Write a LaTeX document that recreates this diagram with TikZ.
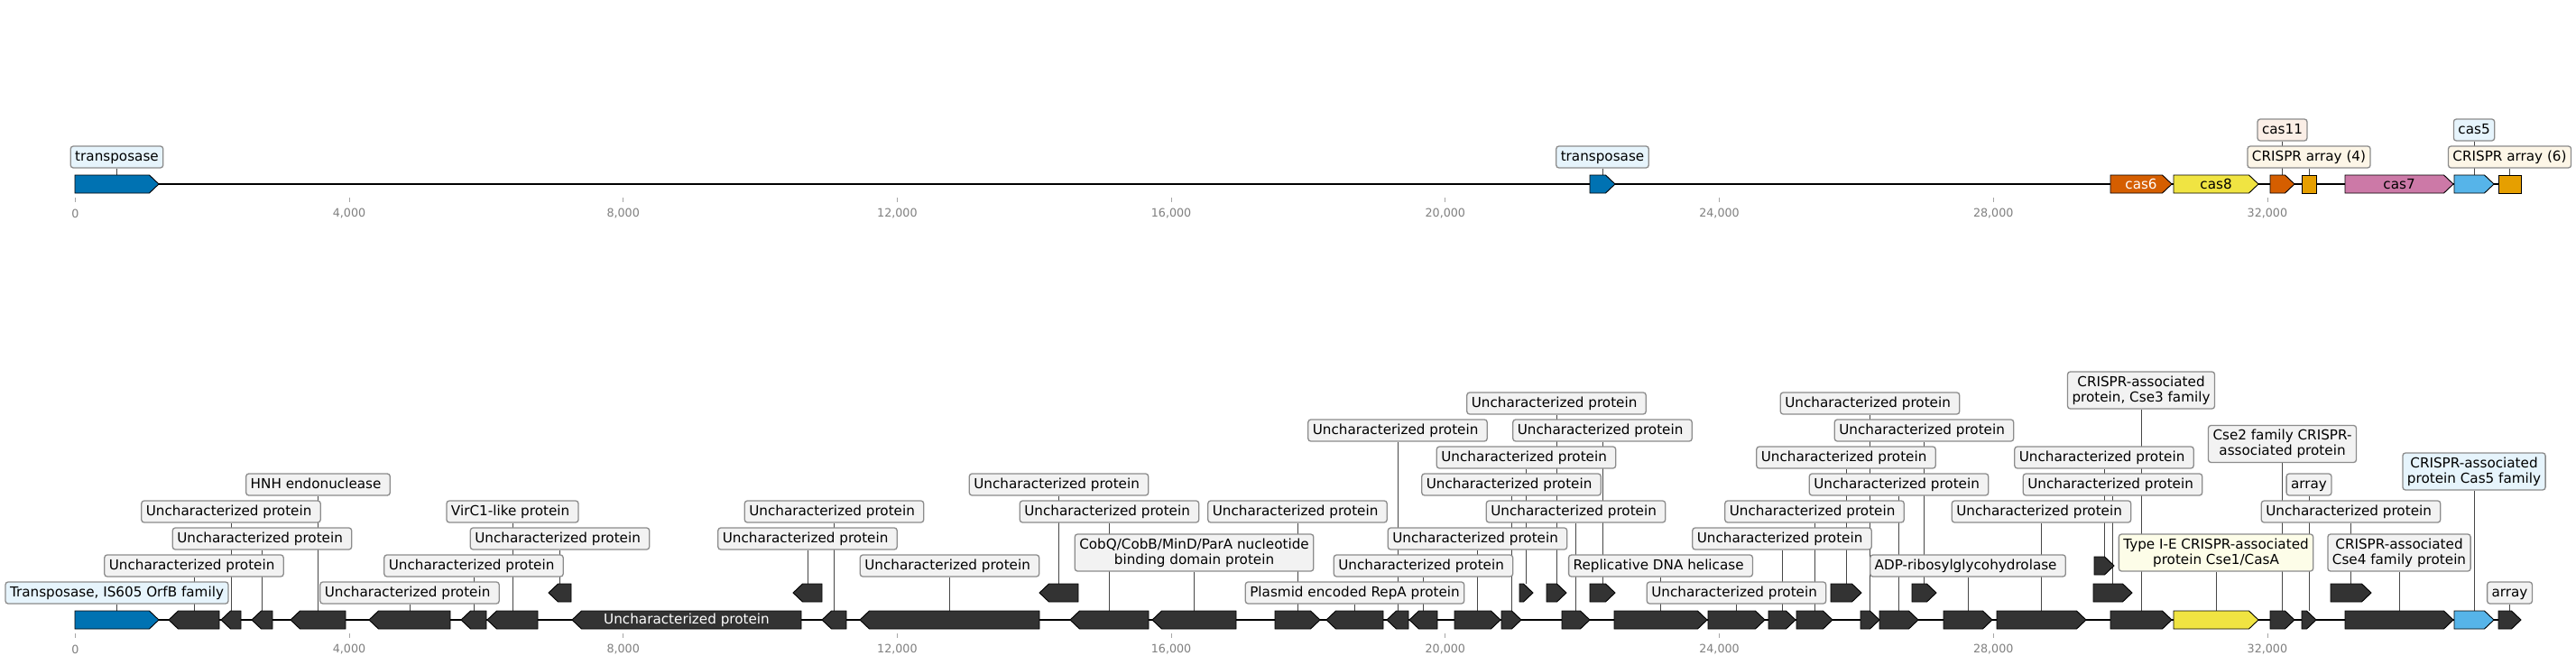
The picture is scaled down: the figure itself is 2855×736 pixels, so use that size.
\documentclass[tikz,border=0pt]{standalone}
\usepackage{fontspec}
\setmainfont{DejaVu Sans}
\definecolor{gdark}{HTML}{333333}
\definecolor{gblue}{HTML}{0072B2}
\definecolor{glblue}{HTML}{56B4E9}
\definecolor{gred}{HTML}{D55E00}
\definecolor{gyel}{HTML}{F0E442}
\definecolor{gorg}{HTML}{E69F00}
\definecolor{gpink}{HTML}{CC79A7}
\definecolor{bgray}{HTML}{F2F2F2}
\definecolor{bblue}{HTML}{E6F4FC}
\definecolor{bcream}{HTML}{FDF6E7}
\definecolor{borange}{HTML}{FBEEE6}
\definecolor{byel}{HTML}{FDFDE8}
\definecolor{bedge}{HTML}{8C8C8C}
\definecolor{axgray}{HTML}{808080}
\pgfdeclarelayer{bg}
\pgfsetlayers{bg,main}
\newcommand\labfont{\fontsize{15.2pt}{17pt}\selectfont}
\newcommand\axfont{\fontsize{12.7pt}{14pt}\selectfont}
\newcommand\UP{Uncharacterized protein\kern4.8pt}
\newcommand\tsp{\kern4.8pt}
\newcommand\genF[5]{%
  \pgfmathsetmacro\gmid{max(#1,#2-10.5)}%
  \draw[gene,fill=#4] (#1,#3-10) -- (\gmid,#3-10) -- (#2,#3) -- (\gmid,#3+10) -- (#1,#3+10) -- cycle;
  \coordinate (#5) at ({(#1+#2)/2},#3-10);}
\newcommand\genR[5]{%
  \pgfmathsetmacro\gmid{min(#2,#1+10.5)}%
  \draw[gene,fill=#4] (#2,#3-10) -- (\gmid,#3-10) -- (#1,#3) -- (\gmid,#3+10) -- (#2,#3+10) -- cycle;
  \coordinate (#5) at ({(#1+#2)/2},#3-10);}
\newcommand\genQ[5]{%
  \draw[gene,fill=#4] (#1,#3-10) rectangle (#2,#3+10);
  \coordinate (#5) at ({(#1+#2)/2},#3-10);}
\begin{document}
\begin{tikzpicture}[x=1pt,y=-1pt,
  gene/.style={draw=black, line width=0.9pt, line join=miter},
  conn/.style={draw=black!72, line width=0.9pt},
  lab/.style={draw=bedge, line width=1.3pt, rounded corners=3pt, fill=bgray, inner xsep=5pt, inner ysep=4.5pt, font=\labfont, text height=11.5pt, text depth=3.5pt, text=black},
  labtwo/.style={draw=bedge, line width=1.3pt, rounded corners=3pt, fill=bgray, inner xsep=5pt, inner ysep=4pt, font=\labfont, align=center, minimum height=41pt, text=black},
  gtext/.style={font=\labfont, inner sep=0pt},
  axlab/.style={font=\axfont, text=axgray, inner sep=0pt},
  tickline/.style={draw=axgray!70, line width=0.8pt},
  spine/.style={draw=black, line width=2.2pt}
]
\useasboundingbox (0,0) rectangle (2855,736);
\begin{pgfonlayer}{bg}
\fill[white] (0,0) rectangle (2855,736);
\end{pgfonlayer}

% ---------------- top track ----------------
\coordinate (ts) at (83,204);
\coordinate (te) at (2794,204);
\genF{83}{176}{204}{gblue}{tc1}
\genF{1762}{1790}{204}{gblue}{tc2}
\genF{2339}{2407}{204}{gred}{tx1}
\genF{2409}{2503}{204}{gyel}{tx2}
\genF{2516}{2543}{204}{gred}{tc4}
\genQ{2551}{2567}{204}{gorg}{tc3}
\genF{2599}{2719}{204}{gpink}{tx3}
\genF{2720}{2764}{204}{glblue}{tc5}
\genQ{2769}{2794}{204}{gorg}{tc6}
\node[gtext,text=white] (tcas6) at (tx1 |- 0,204) {cas6};
\node[gtext] (tcas8) at (tx2 |- 0,204) {cas8};
\node[gtext] (tcas7) at (tx3 |- 0,204) {cas7};

\node[lab,fill=bblue] (tb1) at (tc1 |- 0,174) {transposase};
\node[lab,fill=bblue] (tb2) at (tc2 |- 0,174) {transposase};
\node[lab,fill=bcream] (tb3) at (tc3 |- 0,174) {CRISPR array (4)};
\node[lab,fill=borange] (tb4) at (tc4 |- 0,144) {cas11};
\node[lab,fill=bblue] (tb5) at (tc5 |- 0,144) {cas5};
\node[lab,fill=bcream] (tb6) at (tc6 |- 0,174) {CRISPR array (6)};

% top axis
\foreach \k in {0,...,8} {
  \draw[tickline] ({83.3+303.7*\k},219) -- ({83.3+303.7*\k},224);
  \draw[tickline] ({83.3+303.7*\k},702) -- ({83.3+303.7*\k},707);
}
\node[axlab] (ta0) at (83.3,237) {0};
\node[axlab] (ta1) at (387.0,237) {4,000};
\node[axlab] (ta2) at (690.7,237) {8,000};
\node[axlab] (ta3) at (994.4,237) {12,000};
\node[axlab] (ta4) at (1298.1,237) {16,000};
\node[axlab] (ta5) at (1601.8,237) {20,000};
\node[axlab] (ta6) at (1905.5,237) {24,000};
\node[axlab] (ta7) at (2209.2,237) {28,000};
\node[axlab] (ta8) at (2512.9,237) {32,000};

% ---------------- bottom track ----------------
\coordinate (bs) at (83,687);
\coordinate (be) at (2794,687);
\genF{83}{176}{687}{gblue}{g1}
\genR{187}{243}{687}{gdark}{g2}
\genR{245}{267}{687}{gdark}{g3}
\genR{279}{302}{687}{gdark}{g4}
\genR{322}{383}{687}{gdark}{g5}
\genR{409}{499}{687}{gdark}{g6}
\genR{511}{539}{687}{gdark}{g7}
\genR{540}{596}{687}{gdark}{g8}
\genR{608}{633}{657}{gdark}{g9}
\genR{634}{888}{687}{gdark}{g10}
\genR{879}{911}{657}{gdark}{g11}
\genR{911}{938}{687}{gdark}{g12}
\genR{953}{1152}{687}{gdark}{g13}
\genR{1152}{1195}{657}{gdark}{g14}
\genR{1186}{1273}{687}{gdark}{g15}
\genR{1277}{1370}{687}{gdark}{g16}
\genF{1413}{1463}{687}{gdark}{g17}
\genR{1470}{1533}{687}{gdark}{g18}
\genR{1537}{1561}{687}{gdark}{g19}
\genR{1562}{1593}{687}{gdark}{g20}
\genF{1612}{1663}{687}{gdark}{g21}
\genF{1664}{1686}{687}{gdark}{g22}
\genF{1684}{1699}{657}{gdark}{g23}
\genF{1714}{1736}{657}{gdark}{g24}
\genF{1731}{1762}{687}{gdark}{g25}
\genF{1762}{1790}{657}{gdark}{g26}
\genF{1789}{1892}{687}{gdark}{g27}
\genF{1893}{1956}{687}{gdark}{g28}
\genF{1960}{1990}{687}{gdark}{g29}
\genF{1991}{2031}{687}{gdark}{g30}
\genF{2029}{2063}{657}{gdark}{g31}
\genF{2062}{2083}{687}{gdark}{g32}
\genF{2083}{2126}{687}{gdark}{g33}
\genF{2119}{2146}{657}{gdark}{g34}
\genF{2154}{2208}{687}{gdark}{g35}
\genF{2213}{2312}{687}{gdark}{g36}
\genF{2320}{2363}{657}{gdark}{g37}
\genF{2321}{2343}{627}{gdark}{g38}
\genF{2339}{2407}{687}{gdark}{g39}
\genF{2409}{2503}{687}{gyel}{g40}
\genF{2516}{2543}{687}{gdark}{g41}
\genF{2551}{2567}{687}{gdark}{g42}
\genF{2583}{2628}{657}{gdark}{g43}
\genF{2599}{2719}{687}{gdark}{g44}
\genF{2720}{2764}{687}{glblue}{g45}
\genF{2769}{2794}{687}{gdark}{g46}
\node[gtext,text=white] (g10t) at (g10 |- 0,687) {Uncharacterized protein};

\node[lab,fill=bblue] (b1) at (g1 |- 0,657) {Transposase, IS605 OrfB family};
\node[lab] (b2) at (g2 |- 0,627) {\UP};
\node[lab] (b3) at (g3 |- 0,567) {\UP};
\node[lab] (b4) at (g4 |- 0,597) {\UP};
\node[lab] (b5) at (g5 |- 0,537) {HNH endonuclease\tsp};
\node[lab] (b6) at (g6 |- 0,657) {\UP};
\node[lab] (b7) at (g7 |- 0,627) {\UP};
\node[lab] (b8) at (g8 |- 0,567) {VirC1-like protein\tsp};
\node[lab] (b9) at (g9 |- 0,597) {\UP};
\node[lab] (b11) at (g11 |- 0,597) {\UP};
\node[lab] (b12) at (g12 |- 0,567) {\UP};
\node[lab] (b13) at (g13 |- 0,627) {\UP};
\node[lab] (b14) at (g14 |- 0,537) {\UP};
\node[lab] (b15) at (g15 |- 0,567) {\UP};
\node[labtwo] (b16) at (g16 |- 0,612.5) {CobQ/CobB/MinD/ParA nucleotide\\binding domain protein};
\node[lab] (b17) at (g17 |- 0,567) {\UP};
\node[lab] (b18) at (g18 |- 0,657) {Plasmid encoded RepA protein};
\node[lab] (b19) at (g19 |- 0,477) {\UP};
\node[lab] (b20) at (g20 |- 0,627) {\UP};
\node[lab] (b21) at (g21 |- 0,597) {\UP};
\node[lab] (b22) at (g22 |- 0,537) {\UP};
\node[lab] (b23) at (g23 |- 0,507) {\UP};
\node[lab] (b24) at (g24 |- 0,447) {\UP};
\node[lab] (b25) at (g25 |- 0,567) {\UP};
\node[lab] (b26) at (g26 |- 0,477) {\UP};
\node[lab] (b27) at (g27 |- 0,627) {Replicative DNA helicase\tsp};
\node[lab] (b28) at (g28 |- 0,657) {\UP};
\node[lab] (b29) at (g29 |- 0,597) {\UP};
\node[lab] (b30) at (g30 |- 0,567) {\UP};
\node[lab] (b31) at (g31 |- 0,507) {\UP};
\node[lab] (b32) at (g32 |- 0,447) {\UP};
\node[lab] (b33) at (g33 |- 0,537) {\UP};
\node[lab] (b34) at (g34 |- 0,477) {\UP};
\node[lab] (b35) at (g35 |- 0,627) {ADP-ribosylglycohydrolase\tsp};
\node[lab] (b36) at (g36 |- 0,567) {\UP};
\node[lab] (b37) at (g37 |- 0,537) {\UP};
\node[lab] (b38) at (g38 |- 0,507) {\UP};
\node[labtwo] (b39) at (g39 |- 0,432.5) {CRISPR-associated\\protein, Cse3 family};
\node[labtwo,fill=byel] (b40) at (g40 |- 0,612.5) {Type I-E CRISPR-associated\\protein Cse1/CasA};
\node[labtwo] (b41) at (g41 |- 0,492) {Cse2 family CRISPR-\\associated protein};
\node[lab] (b42) at (g42 |- 0,537) {array};
\node[lab] (b43) at (g43 |- 0,567) {\UP};
\node[labtwo] (b44) at (g44 |- 0,612.5) {CRISPR-associated\\Cse4 family protein};
\node[labtwo,fill=bblue] (b45) at (g45 |- 0,522.5) {CRISPR-associated\\protein Cas5 family};
\node[lab] (b46) at (g46 |- 0,657) {array};

% bottom axis labels
\node[axlab] (ba0) at (83.3,720) {0};
\node[axlab] (ba1) at (387.0,720) {4,000};
\node[axlab] (ba2) at (690.7,720) {8,000};
\node[axlab] (ba3) at (994.4,720) {12,000};
\node[axlab] (ba4) at (1298.1,720) {16,000};
\node[axlab] (ba5) at (1601.8,720) {20,000};
\node[axlab] (ba6) at (1905.5,720) {24,000};
\node[axlab] (ba7) at (2209.2,720) {28,000};
\node[axlab] (ba8) at (2512.9,720) {32,000};

% ---------------- background: spines and connectors ----------------
\begin{pgfonlayer}{bg}
\draw[spine] (ts) -- (te);
\draw[spine] (bs) -- (be);
\foreach \i in {1,...,6} \draw[conn] (tc\i) -- (tc\i |- tb\i.south);
\foreach \i in {1,...,9,11,12,...,46} \draw[conn] (g\i) -- (g\i |- b\i.south);
\end{pgfonlayer}
\end{tikzpicture}
\end{document}
